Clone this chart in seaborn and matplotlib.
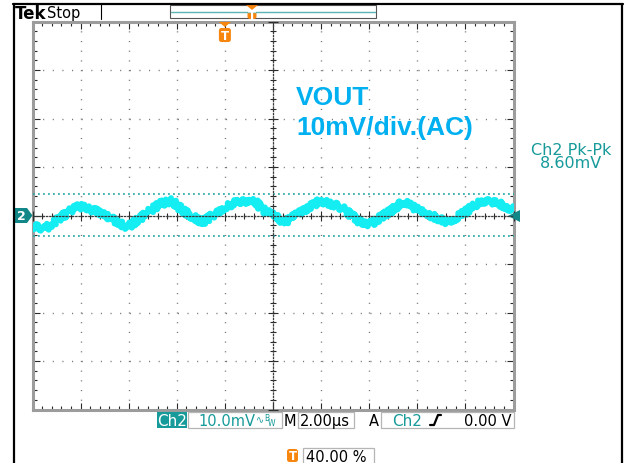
import numpy as np
import pandas as pd
import matplotlib
matplotlib.use("Agg")
import matplotlib.pyplot as plt
import seaborn as sns
from matplotlib.transforms import Affine2D
from matplotlib.patches import Rectangle, Polygon, FancyBboxPatch
from matplotlib.lines import Line2D
from matplotlib.ticker import MultipleLocator

# ---------------- data ----------------
time_us = [0.0, 0.5, 1.54, 1.96, 2.79, 3.42, 3.96, 4.88, 5.29, 5.79, 6.33, 7.08,
           8.0, 8.63, 9.25, 9.67, 10.5, 11.13, 11.96, 12.79, 13.63, 14.04, 14.88,
           15.42, 16.13, 17.25, 18.0, 18.63, 19.25, 19.67, 20.0]
vout_mv = [-2.2, -2.8, 0.9, 1.9, 0.7, -1.1, -2.4, 0.9, 2.4, 3.0, 0.7, -1.4,
           1.8, 3.0, 2.8, 0.9, -1.4, 0.7, 3.0, 1.8, -1.4, -1.8, 0.9,
           2.8, 0.9, -1.4, 0.7, 3.0, 2.8, 1.8, 1.3]
cursor_mv = [4.4, -4.2]
mv_per_div = 10.0
us_per_div = 2.0
trigger_pct = 40.0
trigger_level_mv = 0.0
title_lines = ["VOUT", "10mV/div.(AC)"]
meas_lines = ["Ch2 Pk-Pk", "8.60mV"]
status_text = ["Tek", "Stop"]
scale_labels = ["Ch2", "10.0mV", "M", "2.00\u00b5s", "A", "Ch2", "0.00 V", "40.00 %"]

df = pd.DataFrame({"t": time_us, "v": vout_mv})

# ---------------- style ----------------
sns.set_theme(style="white")
plt.rcParams["font.family"] = ["DejaVu Sans"]

W, H = 628, 464
fig = plt.figure(figsize=(W / 100, H / 100), dpi=100)
fig.patch.set_facecolor("white")
PX = Affine2D().scale(1, -1).translate(0, H)  # top-left pixel coordinates

TEAL = "#169a9a"
DTEAL = "#118787"
CYAN = "#14eef3"
ORANGE = "#f7860f"
SANS = "DejaVu Sans"

L, R, TOP, BOT = 32.5, 513.5, 22.5, 410.5
rect = [L / W, 1 - BOT / H, (R - L) / W, (BOT - TOP) / H]
ax = fig.add_axes(rect)
xmax = 10 * us_per_div
ymax = 4 * mv_per_div
ax.set_xlim(0, xmax)
ax.set_ylim(-ymax, ymax)
ax.xaxis.set_major_locator(MultipleLocator(us_per_div))
ax.xaxis.set_minor_locator(MultipleLocator(us_per_div / 5))
ax.yaxis.set_major_locator(MultipleLocator(mv_per_div))
ax.yaxis.set_minor_locator(MultipleLocator(mv_per_div / 5))
ax.set_facecolor("white")
ax.xaxis.grid(True, which="major", color="#777777", linestyle=(0, (0.8, 6.18)), linewidth=1.0)
ax.yaxis.grid(True, which="major", color="#777777", linestyle=(0, (0.8, 6.13)), linewidth=1.0)
for s in ax.spines.values():
    s.set_visible(True)
    s.set_color("#9c9c9c")
    s.set_linewidth(2.2)
ax.tick_params(which="both", direction="in", top=True, right=True, bottom=True, left=True,
               labelbottom=False, labelleft=False, color="#2a2a2a", width=0.8)
ax.tick_params(which="major", length=5)
ax.tick_params(which="minor", length=3)
ax.set_xlabel("")
ax.set_ylabel("")

# center cross-hair axes (shares scale)
ax2 = fig.add_axes(rect, sharex=ax, sharey=ax)
ax2.patch.set_visible(False)
ax2.grid(False)
ax2.spines["top"].set_visible(False)
ax2.spines["right"].set_visible(False)
ax2.spines["left"].set_position(("data", xmax / 2))
ax2.spines["bottom"].set_position(("data", 0))
for k in ("left", "bottom"):
    ax2.spines[k].set_color("#3a3a3a")
    ax2.spines[k].set_linewidth(0.9)
    ax2.spines[k].set_linestyle((0, (1, 1.6)))
ax2.tick_params(which="both", direction="inout", labelbottom=False, labelleft=False,
                bottom=True, left=True, color="#2a2a2a", width=0.8)
ax2.tick_params(which="major", length=7)
ax2.tick_params(which="minor", length=5)

# cursors
for c in cursor_mv:
    ax2.axhline(c, color="#27a8a8", linestyle=(0, (1.1, 1.9)), linewidth=1.2)

# trace
sns.lineplot(data=df, x="t", y="v", ax=ax2, color=CYAN, linewidth=4.2,
             sort=False, estimator=None)
line = ax2.lines[-1]
line.set_sketch_params(scale=3.0, length=1.0, randomness=10)
line.set_solid_joinstyle("round")
ax2.set_xlabel("")
ax2.set_ylabel("")
ax2.set_xlim(0, xmax)
ax2.set_ylim(-ymax, ymax)

# trigger level marker (right edge)
ax2.plot([xmax], [trigger_level_mv], marker="<", markersize=8, color=DTEAL,
         clip_on=False, markeredgewidth=0)

# ---------------- decorations outside the graticule ----------------
def add_line(xs, ys, **kw):
    fig.add_artist(Line2D(xs, ys, transform=PX, **kw))

def add_text(x, y, s, **kw):
    fig.text(x, y, s, transform=PX, **kw)

# outer frame
add_line([13, 623], [5, 5], color="black", linewidth=1.6)
add_line([14, 14], [5, 464], color="black", linewidth=1.6)
add_line([622, 622], [5, 464], color="black", linewidth=1.6)

# top status bar
add_text(15, 19, status_text[0], fontsize=12, fontweight="bold", color="black", va="baseline")
add_text(47, 18, status_text[1], fontsize=10.5, color="black", va="baseline")
add_line([101, 101], [5, 20], color="black", linewidth=0.8)
fig.add_artist(Rectangle((170, 6), 206, 13, transform=PX, facecolor="white",
                         edgecolor="#555555", linewidth=0.8))
add_line([171, 375], [12.7, 12.7], color="#5ab4b4", linewidth=1.0)

def t_marker(cx, ytop, tri=True, box_h=12, box_w=11):
    y0 = ytop
    if tri:
        fig.add_artist(Polygon([(cx - 6, y0), (cx + 6, y0), (cx, y0 + 5)], closed=True,
                               transform=PX, facecolor=ORANGE, edgecolor="none"))
        y0 += 6
    fig.add_artist(FancyBboxPatch((cx - box_w / 2, y0), box_w, box_h,
                                  boxstyle="round,pad=0,rounding_size=2.5",
                                  transform=PX, facecolor=ORANGE, edgecolor="none"))
    add_text(cx, y0 + box_h / 2 + 0.5, "T", fontsize=8.5, fontweight="bold",
             color="white", ha="center", va="center")

t_marker(252, 6, tri=True, box_h=8, box_w=9)
trig_x = L + (R - L) * trigger_pct / 100
t_marker(trig_x, 23, tri=True, box_h=14, box_w=12)

# channel 2 ground marker
fig.add_artist(Polygon([(15, 209), (27, 209), (32.5, 216.5), (27, 224), (15, 224)], closed=True,
                       transform=PX, facecolor=DTEAL, edgecolor="none"))
add_text(21.5, 217, "2", fontsize=9, fontweight="bold", color="white", ha="center", va="center")

# annotation
add_text(296, 105, title_lines[0], fontsize=19, fontweight="bold", color="#00b0f0",
         family="Liberation Sans", va="baseline")
add_text(296, 135, title_lines[1], fontsize=19, fontweight="bold", color="#00b0f0",
         family="Liberation Sans", va="baseline")

# measurement readout
add_text(571, 155, meas_lines[0], fontsize=11.5, color=TEAL, family=SANS, ha="center", va="baseline")
add_text(571, 168.5, meas_lines[1], fontsize=11.5, color=TEAL, family=SANS, ha="center", va="baseline")

# bottom scale bar
BL = 426.5
fig.add_artist(Rectangle((157, 413), 30, 15.5, transform=PX, facecolor=TEAL, edgecolor="none"))
add_text(172, BL, scale_labels[0], fontsize=11, color="white", family=SANS, ha="center", va="baseline")
for (x0, w) in [(188, 94), (298, 56), (381, 133)]:
    fig.add_artist(Rectangle((x0, 413), w, 16, transform=PX, facecolor="none",
                             edgecolor="#b5b5b5", linewidth=0.9))
add_text(227, BL, scale_labels[1], fontsize=10.5, color=TEAL, family=SANS, ha="center", va="baseline")
add_text(256, BL - 3, "\u223f", fontsize=7, color=TEAL, va="baseline")
add_text(264, BL - 5, "B", fontsize=5.5, color=TEAL, va="baseline")
add_text(268, BL, "W", fontsize=5.5, color=TEAL, va="baseline")
add_text(289.5, BL, scale_labels[2], fontsize=10.5, color="black", family=SANS, ha="center", va="baseline")
add_text(325, BL, scale_labels[3], fontsize=10.5, color="black", family=SANS, ha="center", va="baseline")
add_text(374, BL, scale_labels[4], fontsize=10.5, color="black", family=SANS, ha="center", va="baseline")
add_text(407, BL, scale_labels[5], fontsize=11, color=TEAL, family=SANS, ha="center", va="baseline")
add_line([430, 434, 438, 441], [426, 426, 416, 416], color="black", linewidth=1.6)
add_text(512, BL, scale_labels[6], fontsize=10.5, color="black", family=SANS, ha="right", va="baseline")

# trigger position readout
t_marker(292.5, 450, tri=False, box_h=13, box_w=11)
fig.add_artist(Rectangle((303, 449), 71, 16, transform=PX, facecolor="none",
                         edgecolor="#b5b5b5", linewidth=0.9))
add_text(306, 462, scale_labels[7], fontsize=10.5, color="black", family=SANS, va="baseline")

fig.savefig("out.png", dpi=100, facecolor="white")
